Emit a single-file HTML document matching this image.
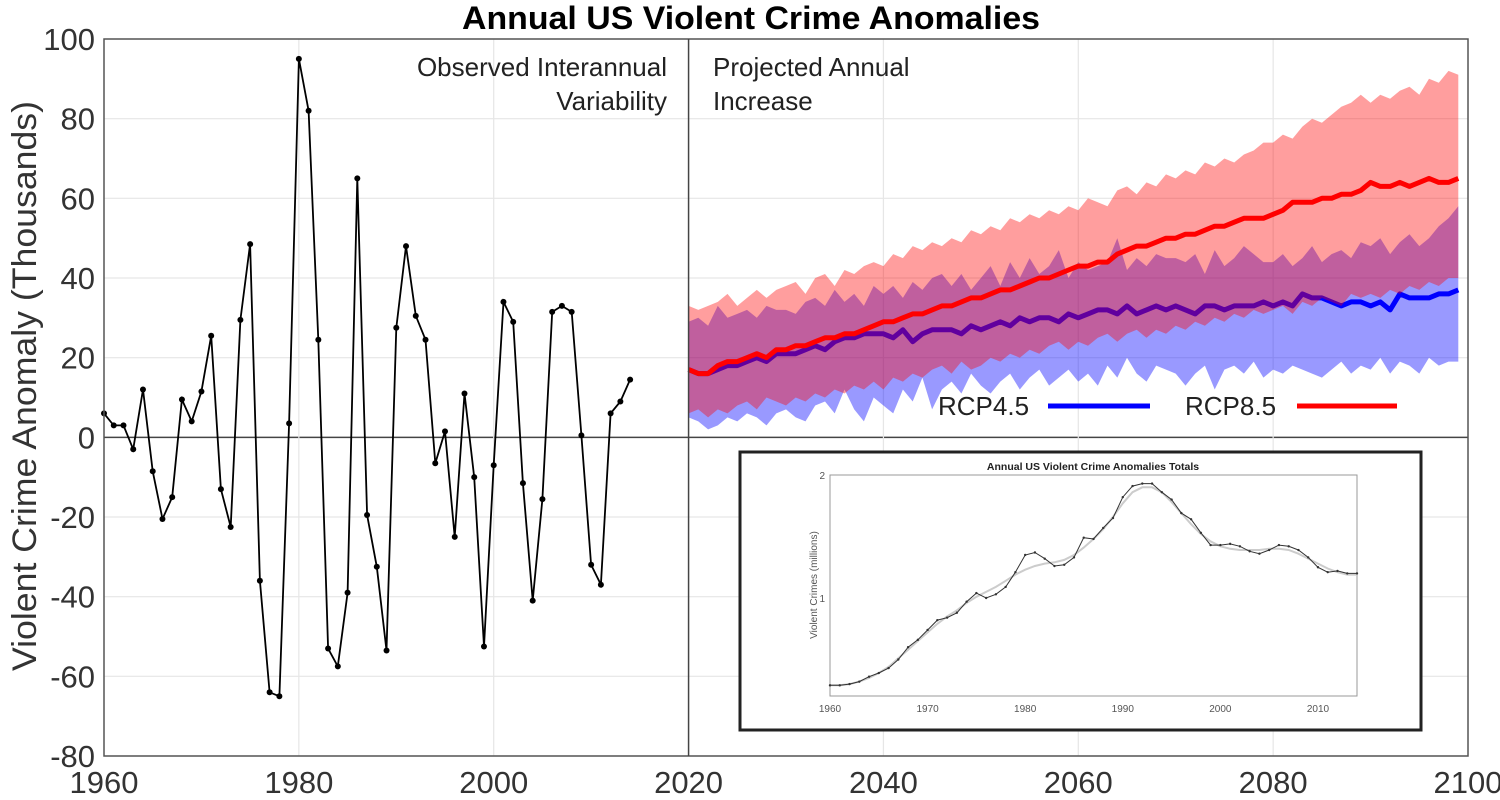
<!DOCTYPE html>
<html><head><meta charset="utf-8"><style>
html,body{margin:0;padding:0;background:#fff;width:1500px;height:800px;overflow:hidden}
svg{display:block;font-family:"Liberation Sans",sans-serif}
</style></head><body>
<svg id="chart" width="1500" height="800" viewBox="0 0 1500 800" xmlns="http://www.w3.org/2000/svg">
<rect width="1500" height="800" fill="#fff"/>
<g id="grid"></g>
<g id="bands"></g>
<g id="obs"></g>
<g id="axes"></g>
<text x="751" y="29" text-anchor="middle" font-size="32" font-weight="bold" textLength="578" lengthAdjust="spacingAndGlyphs">Annual US Violent Crime Anomalies</text>
<text transform="translate(36,386) rotate(-90)" text-anchor="middle" font-size="34" fill="#333" textLength="570" lengthAdjust="spacingAndGlyphs">Violent Crime Anomaly (Thousands)</text>
<text text-anchor="end" font-size="26" fill="#222"><tspan x="667" y="76">Observed Interannual</tspan><tspan x="667" y="110">Variability</tspan></text>
<text font-size="26" fill="#222"><tspan x="713" y="76">Projected Annual</tspan><tspan x="713" y="110">Increase</tspan></text>
<g>
<text x="938" y="415" font-size="26" fill="#222">RCP4.5</text>
<line x1="1048" y1="406" x2="1150" y2="406" stroke="#0000ff" stroke-width="5"/>
<text x="1185" y="415" font-size="26" fill="#222">RCP8.5</text>
<line x1="1297" y1="406" x2="1397" y2="406" stroke="#ff0000" stroke-width="5"/>
</g>
<g id="inset"></g>
</svg>
<script>
const obsYears=[];for(let y=1960;y<=2014;y++)obsYears.push(y);
const obsValues=[6,3,3,-3,12,-8.5,-20.5,-15,9.5,4,11.5,25.5,-13,-22.5,29.5,48.5,-36,-64,-65,3.5,95,82,24.5,-53,-57.5,-39,65,-19.5,-32.5,-53.5,27.5,48,30.5,24.5,-6.5,1.5,-25,11,-10,-52.5,-7,34,29,-11.5,-41,-15.5,31.5,33,31.5,0.5,-32,-37,6,9,14.5];
const projYears=[];for(let y=2020;y<=2099;y++)projYears.push(y);
const redMean=[17,16,16,18,19,19,20,21,20,22,22,23,23,24,25,25,26,26,27,28,29,29,30,31,31,32,33,33,34,35,35,36,37,37,38,39,40,40,41,42,43,43,44,44,46,47,48,48,49,50,50,51,51,52,53,53,54,55,55,55,56,57,59,59,59,60,60,61,61,62,64,63,63,64,63,64,65,64,64,65];
const blueMean=[17,16,16,17,18,18,19,20,19,21,21,21,22,23,22,24,25,25,26,26,26,25,27,24,26,27,27,27,26,28,27,28,29,28,30,29,30,30,29,31,30,31,32,32,31,33,31,32,33,32,33,32,31,33,33,32,33,33,33,34,33,34,33,36,35,35,34,33,34,34,33,34,32,36,35,35,35,36,36,37];
const redUpper=[33,32,33,34,36,33,35,37,35,37,38,39,36,40,41,38,42,41,43,44,43,46,45,48,47,49,48,50,49,52,51,53,52,55,54,56,55,57,56,58,57,60,59,58,62,63,61,64,63,66,65,67,66,69,68,70,69,71,72,74,74,76,75,78,80,79,81,83,84,86,84,86,85,87,88,86,90,89,92,91];
const redLower=[6,7,5,7,6,8,9,7,10,9,8,10,9,11,10,12,11,13,12,14,12,15,14,16,15,17,18,16,19,17,18,20,19,21,20,22,21,23,24,22,24,23,25,26,24,26,27,25,27,26,28,27,29,28,30,29,31,30,32,31,32,33,31,34,33,35,34,33,36,35,36,35,37,36,38,37,39,38,40,40];
const blueUpper=[29,30,28,33,30,31,32,30,33,32,32,31,34,35,33,37,34,36,33,38,36,38,35,39,37,40,41,38,41,37,40,43,38,44,40,45,41,43,47,40,44,42,43,44,50,42,45,43,46,45,45,44,46,41,47,43,45,48,46,44,44,46,43,45,48,44,46,47,45,49,48,50,46,49,51,48,50,53,55,58];
const blueLower=[5,4,2,3,5,4,6,5,3,6,7,5,4,8,9,6,12,7,4,10,8,6,12,9,15,7,12,14,11,16,13,11,14,16,12,15,17,13,15,17,14,16,13,18,15,20,16,14,18,17,16,13,16,18,12,17,18,16,19,15,17,16,18,17,16,15,17,19,16,18,17,20,16,19,18,16,20,18,19,19];
const yTicks=[100,80,60,40,20,0,-20,-40,-60,-80];
const xTicks=[1960,1980,2000,2020,2040,2060,2080,2100];
const insetYears=[];for(let y=1960;y<=2014;y++)insetYears.push(y);
const insetTotals=[0.29,0.29,0.30,0.32,0.36,0.39,0.43,0.50,0.60,0.66,0.74,0.82,0.84,0.88,0.97,1.04,1.00,1.03,1.09,1.21,1.35,1.37,1.32,1.26,1.27,1.33,1.49,1.48,1.57,1.65,1.82,1.91,1.93,1.93,1.86,1.80,1.69,1.64,1.53,1.43,1.43,1.44,1.42,1.38,1.36,1.39,1.43,1.42,1.39,1.33,1.25,1.21,1.22,1.20,1.20];
const insetSmooth=[0.29,0.29,0.30,0.32,0.35,0.39,0.44,0.51,0.58,0.65,0.72,0.79,0.85,0.90,0.96,1.01,1.05,1.09,1.14,1.19,1.23,1.26,1.28,1.29,1.31,1.35,1.41,1.48,1.56,1.66,1.77,1.86,1.90,1.90,1.86,1.78,1.69,1.60,1.52,1.46,1.42,1.40,1.39,1.39,1.39,1.40,1.40,1.39,1.36,1.32,1.28,1.24,1.21,1.19,1.19];
const insetXTicks=[1960,1970,1980,1990,2000,2010];
const insetYTicks=[1,2];

const NS="http://www.w3.org/2000/svg";
const X0=104,X1=1468,Y0=39,Y1=756;
function sx(yr){return X0+(yr-1960)*(X1-X0)/140;}
function sy(v){return Y0+(100-v)*(Y1-Y0)/180;}
function mk(tag,attrs,parent){const e=document.createElementNS(NS,tag);for(const k in attrs)e.setAttribute(k,attrs[k]);parent.appendChild(e);return e;}
const grid=document.getElementById('grid'),axes=document.getElementById('axes'),bands=document.getElementById('bands'),obs=document.getElementById('obs');

yTicks.forEach(t=>{
  const g=mk('line',{x1:X0,x2:X1,y1:sy(t),y2:sy(t),stroke:t===0?'#444':'#e6e6e6','stroke-width':t===0?1.5:1.2},grid);
  
  
  const lb=mk('text',{x:X0-9,y:sy(t)+11,'text-anchor':'end','font-size':31,fill:'#333'},axes);
  lb.textContent=t;
  
  
});
xTicks.forEach(t=>{
  if(t!==1960&&t!==2100&&t!==2020){
    const g=mk('line',{x1:sx(t),x2:sx(t),y1:Y0,y2:Y1,stroke:'#e6e6e6','stroke-width':1.2},grid);
    
    
  }
  const lb=mk('text',{x:sx(t),y:793,'text-anchor':'middle','font-size':31,fill:'#333'},axes);
  lb.textContent=t;
  
  
});
const frame=mk('rect',{x:X0,y:Y0,width:X1-X0,height:Y1-Y0,fill:'none',stroke:'#555','stroke-width':1.5},axes);


const div=mk('line',{x1:sx(2020),x2:sx(2020),y1:Y0,y2:Y1,stroke:'#444','stroke-width':1.5},axes);



function bandPath(up,lo){let d='';projYears.forEach((yr,i)=>{d+=(i?'L':'M')+sx(yr).toFixed(1)+','+sy(up[i]).toFixed(1);});for(let i=projYears.length-1;i>=0;i--)d+='L'+sx(projYears[i]).toFixed(1)+','+sy(lo[i]).toFixed(1);return d+'Z';}
function linePath(xs,vals,fx,fy){return xs.map((x,i)=>(i?'L':'M')+fx(x).toFixed(1)+','+fy(vals[i]).toFixed(1)).join('');}
const bb=mk('path',{d:bandPath(blueUpper,blueLower),fill:'rgba(0,0,255,0.4)'},bands);


const bl=mk('path',{d:linePath(projYears,blueMean,sx,sy),fill:'none',stroke:'#0000ff','stroke-width':5,'stroke-linejoin':'round'},bands);


const rb=mk('path',{d:bandPath(redUpper,redLower),fill:'rgba(255,0,0,0.38)'},bands);


const rl=mk('path',{d:linePath(projYears,redMean,sx,sy),fill:'none',stroke:'#ff0000','stroke-width':5,'stroke-linejoin':'round'},bands);



const ol=mk('path',{d:linePath(obsYears,obsValues,sx,sy),fill:'none',stroke:'#000','stroke-width':1.8},obs);


obsYears.forEach((yr,i)=>{
  const c=mk('circle',{cx:sx(yr),cy:sy(obsValues[i]),r:3,fill:'#000'},obs);
  
  
});

const inset=document.getElementById('inset');
const box=mk('rect',{x:740,y:452,width:681,height:278,fill:'#fff',stroke:'#222','stroke-width':3},inset);


const IX0=830,IX1=1357,IY2=475,IY1=598,IYB=696;
function ix(yr){return IX0+(yr-1960)*(IX1-IX0)/54;}
function iy(v){return IY1-(v-1)*(IY1-IY2);}
const iax=mk('rect',{x:IX0,y:IY2,width:IX1-IX0,height:IYB-IY2,fill:'none',stroke:'#999','stroke-width':1},inset);


insetXTicks.forEach(t=>{
  const lb=mk('text',{x:ix(t),y:712,'text-anchor':'middle','font-size':10,fill:'#555'},inset);
  lb.textContent=t;
  
  
});
insetYTicks.forEach(t=>{
  const lb=mk('text',{x:IX0-5,y:iy(t)+4,'text-anchor':'end','font-size':10,fill:'#555'},inset);
  lb.textContent=t;
  
  
});
const it=mk('text',{x:1093,y:470,'text-anchor':'middle','font-size':10.5,'font-weight':'bold',fill:'#222'},inset);
it.textContent='Annual US Violent Crime Anomalies Totals';


const iyl=mk('text',{transform:'translate(817,585) rotate(-90)','text-anchor':'middle','font-size':10,fill:'#555'},inset);
iyl.textContent='Violent Crimes (millions)';


const is=mk('path',{d:linePath(insetYears,insetSmooth,ix,iy),fill:'none',stroke:'#ccc','stroke-width':2},inset);


const il=mk('path',{d:linePath(insetYears,insetTotals,ix,iy),fill:'none',stroke:'#333','stroke-width':1},inset);


insetYears.forEach((yr,i)=>{
  const c=mk('circle',{cx:ix(yr),cy:iy(insetTotals[i]),r:1.2,fill:'#333'},inset);
  
  
});
</script>
</body></html>
